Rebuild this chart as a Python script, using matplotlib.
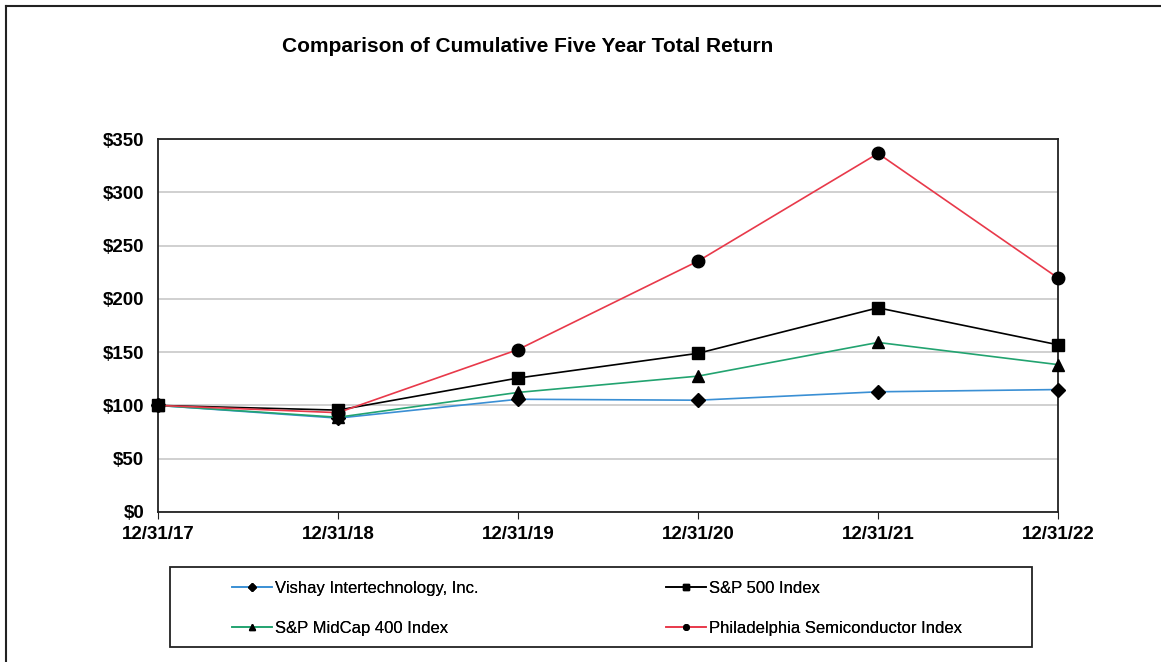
import matplotlib
matplotlib.use("Agg")
import matplotlib.pyplot as plt
from matplotlib.lines import Line2D
from matplotlib.patches import Rectangle

plt.rcParams['font.family'] = ['Liberation Sans', 'DejaVu Sans']

dates = ["12/31/17", "12/31/18", "12/31/19", "12/31/20", "12/31/21", "12/31/22"]
vishay = [100, 88.1, 105.8, 104.9, 112.8, 114.9]
sp500 = [100, 95.6, 125.7, 148.9, 191.6, 156.9]
midcap = [100, 88.9, 112.2, 127.5, 159.1, 138.3]
sox = [100, 93.2, 152.4, 235.4, 336.5, 219.6]
yticks = [0, 50, 100, 150, 200, 250, 300, 350]

W, H = 1161, 662
fig = plt.figure(figsize=(W / 100, H / 100), dpi=100)
ax = fig.add_axes([0.1361, 0.2266, 0.7752, 0.5634])

x = range(len(dates))
series = [
    ("Vishay Intertechnology, Inc.", vishay, "#3a8fd4", "D", 7),
    ("S&P 500 Index", sp500, "#000000", "s", 9),
    ("S&P MidCap 400 Index", midcap, "#22a370", "^", 9),
    ("Philadelphia Semiconductor Index", sox, "#e8394a", "o", 9),
]
handles = {}
for name, vals, col, mk, ms in series:
    ax.plot(x, vals, color=col, lw=1.2, marker=mk, ms=ms,
            mfc="black", mec="black", zorder=3, clip_on=False)
    handles[name] = Line2D([], [], color=col, lw=1.2, marker=mk, ms=4,
                           mfc="black", mec="black")

ax.set_xlim(0, 5)
ax.set_ylim(0, 350)
ax.set_yticks(yticks)
ax.set_yticklabels(["$%d" % v for v in yticks], fontsize=13.5, fontweight="bold")
ax.set_xticks(list(x))
ax.set_xticklabels(dates, fontsize=13.5, fontweight="bold")
ax.tick_params(axis="y", length=0, pad=10)
ax.tick_params(axis="x", length=5, direction="out", pad=5, color="#222222")
ax.yaxis.grid(True, color="#c4c4c4", lw=1.1)
ax.set_axisbelow(True)
for s in ax.spines.values():
    s.set_color("#222222")
    s.set_linewidth(1.3)

fig.text(528 / W, 1 - 47 / H, "Comparison of Cumulative Five Year Total Return",
         ha="center", va="center", fontsize=15, fontweight="bold")

# legend frame
fig.add_artist(Rectangle((170 / W, 1 - 647 / H), 862 / W, 80 / H,
                         transform=fig.transFigure, fill=False,
                         edgecolor="#222222", lw=1.3))

columns = [
    (232, ["Vishay Intertechnology, Inc.", "S&P MidCap 400 Index"]),
    (666, ["S&P 500 Index", "Philadelphia Semiconductor Index"]),
]
for left, names in columns:
    leg = fig.legend([handles[n] for n in names], names,
                     loc="upper left", bbox_to_anchor=(left / W, 1 - 581 / H),
                     fontsize=12, frameon=False, handlelength=2.4,
                     handletextpad=0.2, borderaxespad=0, borderpad=0,
                     labelspacing=1.52)
    fig.add_artist(leg)

# outer frame (top and left edges)
fig.add_artist(Line2D([0.005, 1.0], [0.991, 0.991], color="#222222", lw=1.5,
                      transform=fig.transFigure))
fig.add_artist(Line2D([0.005, 0.005], [0.0, 0.991], color="#222222", lw=1.5,
                      transform=fig.transFigure))

fig.savefig("out.png", dpi=100)
